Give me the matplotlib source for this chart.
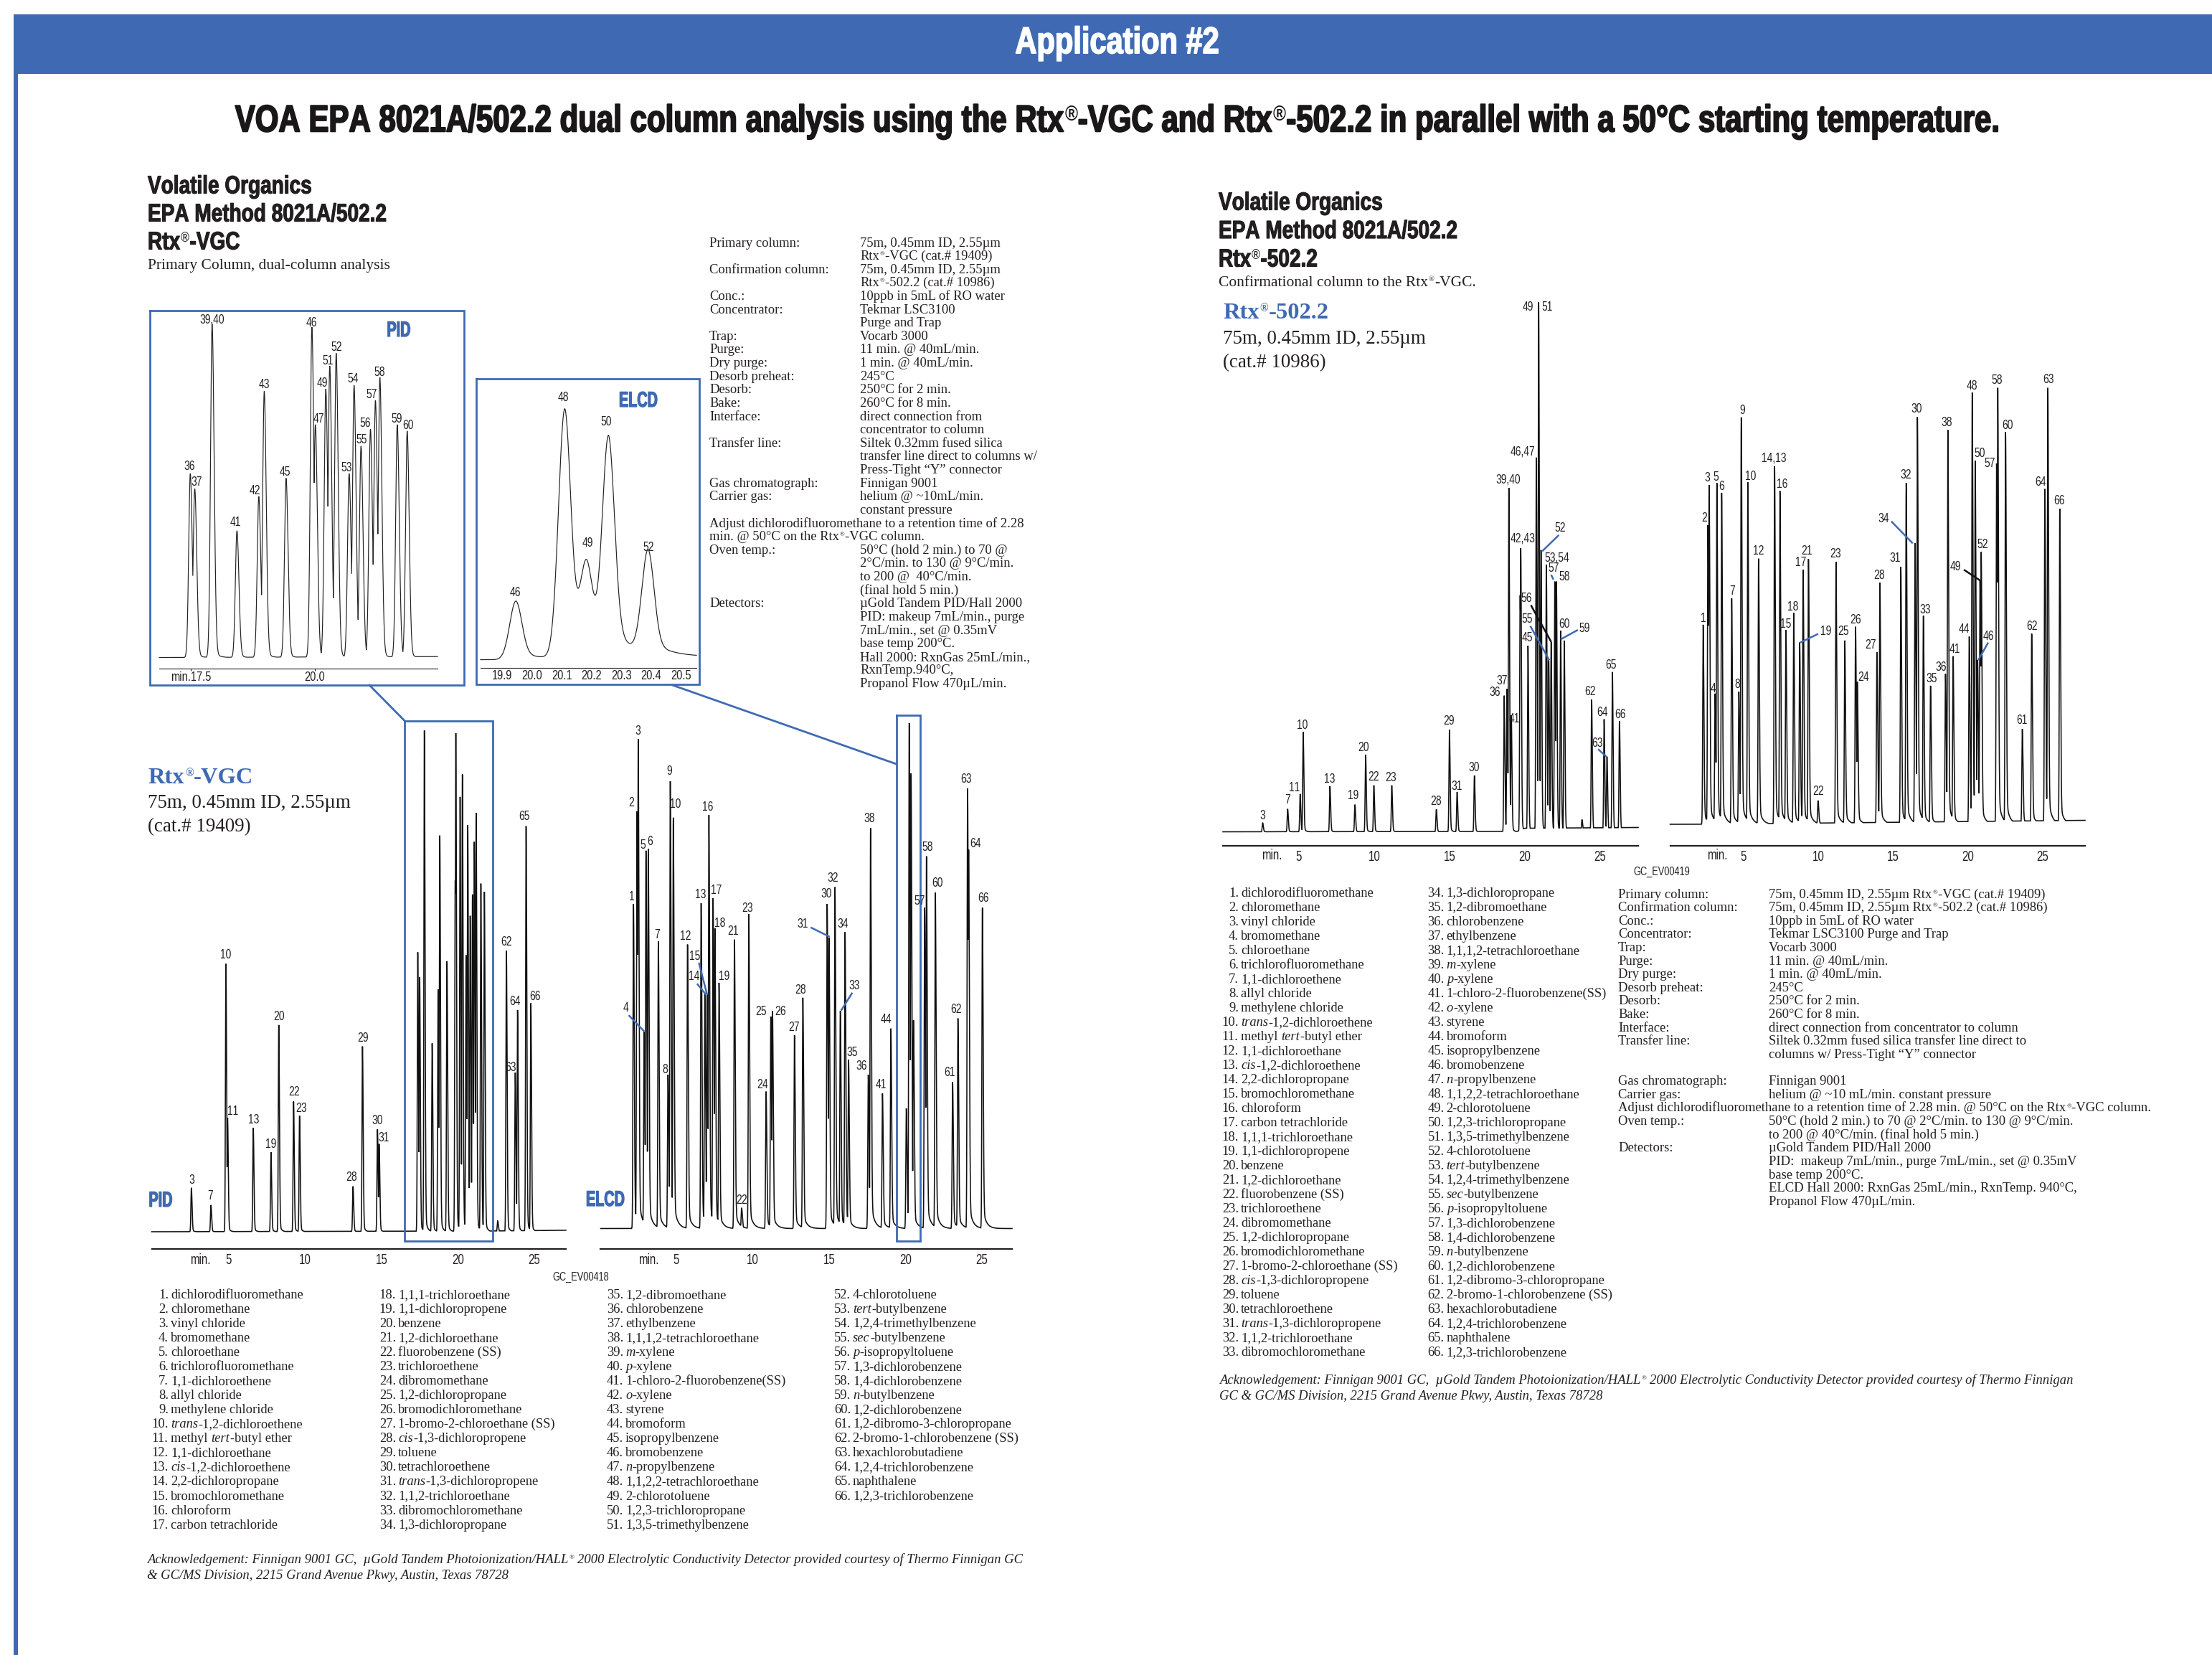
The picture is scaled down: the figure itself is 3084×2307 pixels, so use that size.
import numpy as np
import matplotlib
matplotlib.use("Agg")
import matplotlib.pyplot as plt
import matplotlib.patheffects as pe
from matplotlib import font_manager as fm

# ---------------- DATA (retention time in min, response in arbitrary units) ----------------
A_T = [2.55,3.83,4.81,4.92,6.6,7.76,8.27,9.24,9.63,13.13,13.75,14.73,14.84,17.37,17.49,17.8,18.31,18.7,18.81,19.28,19.82,19.86,20.14,20.29,20.53,20.64,20.8,20.95,21.07,21.19,21.5,21.73,22.6,23.17,23.75,23.9,24.46,24.77]
A_H = [117,71,714,304,277,212,551,347,309,121,494,273,234,745,679,1336,502,646,1056,721,936,1329,1159,1219,737,1084,842,899,1039,1116,928,906,29,749,424,591,1081,609]
A_BT = [0,22,27.1]
A_BR = [0,2,4]

B_T = [2.2,2.43,2.51,2.9,3.02,3.17,3.83,4.46,4.61,4.81,5.74,6.63,6.87,7.02,7.14,7.41,7.53,7.8,8.81,9.28,9.75,10.88,11.19,11.3,12.74,13.29,14.88,15.0,15.39,15.74,16.05,16.28,17.57,17.72,18.5,19.05,20.06,20.25,20.37,20.53,21.26,21.38,21.96,23.09,23.44,24.07,24.14,25.04]
B_H = [865,1112,1305,525,1007,1012,765,410,1192,1095,757,867,625,625,1102,880,800,655,770,55,838,365,565,580,515,615,865,775,910,580,790,450,410,1067,360,533,320,1347,1213,555,855,992,895,390,560,1173,1010,855]
B_BT = [0,2.1,27.1]
B_BR = [-5,-5,-3]

C_T = [17.49,17.58,17.93,18.43,18.87,18.98,19.42,19.94,20.01,20.22,20.3,20.43,20.69,20.79,20.93,21.12,21.22,21.31,21.66,21.86]
C_H = [402,369,729,277,352,582,392,722,509,587,637,665,402,595,462,499,562,612,509,495]
C_TICKS = [17.5,20.0]

D_T = [19.946,20.11,20.183,20.257,20.39]
D_H = [128,545,190,470,225]
D_TICKS = [19.9,20.0,20.1,20.2,20.3,20.4,20.5]

E_T = [2.59,4.25,5.08,5.28,7.06,8.72,9.43,9.98,11.17,14.13,15.0,15.51,16.66,18.64,18.83,18.95,19.11,19.7,19.74,20.22,20.77,20.93,21.09,21.44,21.6,21.76,22.0,22.11,22.39,22.63,23.81,24.45,25.28,25.47,25.83,26.3]
E_H = [23,58,96,254,116,69,196,118,118,57,259,101,143,346,363,874,296,601,721,473,951,1346,716,679,436,483,636,636,511,486,31,336,286,191,406,281]
E_BT = [0,19.5,20.0,27.6]
E_BR = [0,1,9,11]

F_T = [2.29,2.61,2.69,3.09,3.21,3.53,4.2,4.68,4.84,5.28,6.0,7.07,7.43,7.83,8.35,8.75,8.98,9.34,9.98,11.18,11.77,12.49,12.61,13.92,14.12,15.52,15.88,16.47,16.63,17.03,17.51,18.51,18.67,19.02,20.1,20.3,20.5,20.66,20.82,20.9,21.93,22.01,22.53,23.65,24.28,25.16,25.36,26.16]
F_H = [507,760,862,332,867,842,574,337,1034,869,675,910,847,494,537,462,647,674,60,667,467,502,362,437,614,654,867,714,1035,530,352,382,1002,427,477,1097,924,417,620,692,917,1109,997,242,484,852,1109,802]
F_BT = [0,2.2,27.6]
F_BR = [0,0,10]

MAIN_TICKS = [5,10,15,20,25]

COMPOUNDS = ["dichlorodifluoromethane","chloromethane","vinyl chloride","bromomethane","chloroethane",
"trichlorofluoromethane","1,1-dichloroethene","allyl chloride","methylene chloride","*trans*-1,2-dichloroethene",
"methyl *tert*-butyl ether","1,1-dichloroethane","*cis*-1,2-dichloroethene","2,2-dichloropropane","bromochloromethane",
"chloroform","carbon tetrachloride","1,1,1-trichloroethane","1,1-dichloropropene","benzene","1,2-dichloroethane",
"fluorobenzene (SS)","trichloroethene","dibromomethane","1,2-dichloropropane","bromodichloromethane",
"1-bromo-2-chloroethane (SS)","*cis*-1,3-dichloropropene","toluene","tetrachloroethene","*trans*-1,3-dichloropropene",
"1,1,2-trichloroethane","dibromochloromethane","1,3-dichloropropane","1,2-dibromoethane","chlorobenzene","ethylbenzene",
"1,1,1,2-tetrachloroethane","*m*-xylene","*p*-xylene","1-chloro-2-fluorobenzene(SS)","*o*-xylene","styrene","bromoform",
"isopropylbenzene","bromobenzene","*n*-propylbenzene","1,1,2,2-tetrachloroethane","2-chlorotoluene","1,2,3-trichloropropane",
"1,3,5-trimethylbenzene","4-chlorotoluene","*tert*-butylbenzene","1,2,4-trimethylbenzene","*sec*-butylbenzene",
"*p*-isopropyltoluene","1,3-dichlorobenzene","1,4-dichlorobenzene","*n*-butylbenzene","1,2-dichlorobenzene",
"1,2-dibromo-3-chloropropane","2-bromo-1-chlorobenzene (SS)","hexachlorobutadiene","1,2,4-trichlorobenzene","naphthalene",
"1,2,3-trichlorobenzene"]

PARAMS_LEFT = [("Primary column:","75m, 0.45mm ID, 2.55µm"),("","Rtx®-VGC (cat.# 19409)"),
("Confirmation column:","75m, 0.45mm ID, 2.55µm"),("","Rtx®-502.2 (cat.# 10986)"),("Conc.:","10ppb in 5mL of RO water"),
("Concentrator:","Tekmar LSC3100"),("","Purge and Trap"),("Trap:","Vocarb 3000"),("Purge:","11 min. @ 40mL/min."),
("Dry purge:","1 min. @ 40mL/min."),("Desorb preheat:","245°C"),("Desorb:","250°C for 2 min."),("Bake:","260°C for 8 min."),
("Interface:","direct connection from"),("","concentrator to column"),("Transfer line:","Siltek 0.32mm fused silica"),
("","transfer line direct to columns w/"),("","Press-Tight “Y” connector"),("Gas chromatograph:","Finnigan 9001"),
("Carrier gas:","helium @ ~10mL/min."),("","constant pressure"),
("Adjust dichlorodifluoromethane to a retention time of 2.28",""),("min. @ 50°C on the Rtx®-VGC column.",""),
("Oven temp.:","50°C (hold 2 min.) to 70 @"),("","2°C/min. to 130 @ 9°C/min."),("","to 200 @  40°C/min."),("","(final hold 5 min.)"),
("Detectors:","µGold Tandem PID/Hall 2000"),("","PID: makeup 7mL/min., purge"),("","7mL/min., set @ 0.35mV"),("","base temp 200°C."),
("","Hall 2000: RxnGas 25mL/min.,"),("","RxnTemp.940°C,"),("","Propanol Flow 470µL/min.")]

PARAMS_RIGHT = [("Primary column:","75m, 0.45mm ID, 2.55µm Rtx®-VGC (cat.# 19409)"),
("Confirmation column:","75m, 0.45mm ID, 2.55µm Rtx®-502.2 (cat.# 10986)"),("Conc.:","10ppb in 5mL of RO water"),
("Concentrator:","Tekmar LSC3100 Purge and Trap"),("Trap:","Vocarb 3000"),("Purge:","11 min. @ 40mL/min."),
("Dry purge:","1 min. @ 40mL/min."),("Desorb preheat:","245°C"),("Desorb:","250°C for 2 min."),("Bake:","260°C for 8 min."),
("Interface:","direct connection from concentrator to column"),("Transfer line:","Siltek 0.32mm fused silica transfer line direct to"),
("","columns w/ Press-Tight “Y” connector"),("",""),("Gas chromatograph:","Finnigan 9001"),
("Carrier gas:","helium @ ~10 mL/min. constant pressure"),
("Adjust dichlorodifluoromethane to a retention time of 2.28 min. @ 50°C on the Rtx®-VGC column.",""),
("Oven temp.:","50°C (hold 2 min.) to 70 @ 2°C/min. to 130 @ 9°C/min."),("","to 200 @ 40°C/min. (final hold 5 min.)"),
("Detectors:","µGold Tandem PID/Hall 2000"),("","PID:  makeup 7mL/min., purge 7mL/min., set @ 0.35mV"),("","base temp 200°C."),
("","ELCD Hall 2000: RxnGas 25mL/min., RxnTemp. 940°C,"),("","Propanol Flow 470µL/min.")]

TITLE = "VOA EPA 8021A/502.2 dual column analysis using the Rtx®-VGC and Rtx®-502.2 in parallel with a 50°C starting temperature."
ACK_L = ["Acknowledgement: Finnigan 9001 GC,  µGold Tandem Photoionization/HALL® 2000 Electrolytic Conductivity Detector provided courtesy of Thermo Finnigan GC",
         "& GC/MS Division, 2215 Grand Avenue Pkwy, Austin, Texas 78728"]
ACK_R = ["Acknowledgement: Finnigan 9001 GC,  µGold Tandem Photoionization/HALL® 2000 Electrolytic Conductivity Detector provided courtesy of Thermo Finnigan",
         "GC & GC/MS Division, 2215 Grand Avenue Pkwy, Austin, Texas 78728"]

# ---------------- annotation layout (label text, reference-view x, y) ----------------
A_LAB = [("3",105,1272),("7",137,1314),("10",162,672),("11",175,1089),("13",209,1112),("19",238,1177),("20",252,836),("22",278,1037),("23",289,1081),("28",374,1265),("29",393,894),("30",418,1113),("31",428,1160),("62",634,637),("65",665,303),("64",649,796),("66",682,783),("63",642,972)]
B_LAB = [("3",856,75),("2",845,266),("1",845,517),("5",864,380),("6",876,370),("4",835,813),("7",888,618),("8",901,978),("9",908,182),("10",919,270),("12",936,622),("13",961,512),("15",951,676),("14",950,730),("16",973,278),("17",987,500),("18",993,588),("19",1000,730),("21",1016,609),("22",1030,1326),("23",1040,547),("24",1065,1018),("25",1062,823),("26",1095,823),("27",1118,865),("28",1129,765),("30",1172,510),("31",1132,589),("32",1183,467),("33",1220,754),("34",1200,589),("35",1216,932),("36",1231,968),("38",1245,309),("41",1264,1018),("44",1273,844),("57",1329,529),("58",1342,385),("60",1359,480),("61",1379,985),("62",1391,817),("63",1408,203),("64",1423,375),("66",1436,521)]
B_LEAD = [(840,832,866,875),(1146,598,1178,623),(1216,772,1197,820),(955,748,970,777),(958,692,972,778)]
C_LAB = [("36",276,1020),("37",287,1054),("39,40",309,700),("41",343,1143),("42",372,1073),("43",385,842),("45",415,1032),("46",454,706),("47",464,917),("49",470,838),("51",478,789),("52",491,760),("53",505,1023),("54",515,828),("55",527,962),("56",532,926),("57",542,863),("58",553,815),("59",578,917),("60",595,930)]
D_LAB = [("48",821,870),("50",883,923),("49",856,1187),("46",751,1296),("52",945,1197)]
E_LAB = [("3",97,1381),("7",139,1341),("10",164,1151),("11",150,1310),("13",209,1288),("19",249,1330),("20",267,1208),("22",284,1283),("23",312,1285),("28",389,1344),("29",410,1141),("30",452,1259),("31",424,1306),("36",487,1067),("37",499,1038),("39,40",510,526),("41",520,1135),("42,43",534,677),("45",542,928),("46,47",534,455),("49",543,88),("51",576,88),("52",597,650),("53,54",592,725),("57",586,752),("58",604,774),("56",541,828),("55",542,882),("60",604,894),("59",638,905),("62",648,1066),("64",668,1118),("63",660,1197),("65",683,998),("66",698,1124)]
E_LEAD = [(595,667,567,708,'b'),(582,768,586,780,'b'),(548,845,582,938,'k'),(547,898,579,985,'b'),(627,908,598,932,'b'),(661,1211,675,1230,'b')]
F_LAB = [("1",838,879),("2",840,625),("3",845,523),("5",859,520),("6",869,544),("4",855,1058),("7",886,810),("8",895,1047),("9",903,351),("10",917,519),("12",931,708),("14,13",957,473),("16",970,539),("15",977,894),("18",989,851),("17",1002,738),("21",1012,708),("19",1044,912),("22",1031,1319),("23",1060,716),("25",1074,912),("26",1094,883),("24",1107,1029),("27",1119,947),("28",1134,770),("31",1160,727),("32",1178,515),("34",1141,626),("30",1197,347),("33",1211,858),("35",1222,1033),("36",1237,1004),("38",1247,382),("41",1261,958),("44",1276,907),("48",1290,289),("50",1303,460),("46",1317,925),("49",1262,748),("52",1308,692),("57",1319,486),("58",1332,274),("60",1349,389),("61",1373,1138),("62",1391,900),("64",1405,533),("63",1418,273),("66",1436,581)]
F_LEAD = [(1031,918,1001,940,'b'),(1154,632,1190,688,'b'),(1276,755,1303,782,'k'),(1317,940,1300,985,'b')]

# ---------------- condensed fonts, derived locally from Liberation Sans ----------------
def narrow_font(weight, sx, family):
    try:
        from fontTools.ttLib import TTFont
        from fontTools.ttLib.tables._g_l_y_f import GlyphCoordinates
        from fontTools.ttLib.tables.ttProgram import Program
        src = fm.findfont(fm.FontProperties(family="Liberation Sans", weight=weight))
        f = TTFont(src)
        glyf = f["glyf"]
        for gn in glyf.keys():
            g = glyf[gn]
            if g.isComposite():
                for c in g.components:
                    c.x = int(round(c.x*sx))
            elif g.numberOfContours > 0:
                g.coordinates = GlyphCoordinates([(int(round(x*sx)), y) for x, y in g.coordinates])
            if hasattr(g, "program"):
                p = Program(); p.fromBytecode(b""); g.program = p
        hm = f["hmtx"].metrics
        for gn in list(hm):
            a, l = hm[gn]
            hm[gn] = (int(round(a*sx)), int(round(l*sx)))
        for tag in ("fpgm", "prep", "cvt ", "hdmx", "VDMX", "LTSH", "kern", "GPOS", "GSUB", "GDEF", "DSIG", "gasp"):
            if tag in f:
                del f[tag]
        for rec in f["name"].names:
            if rec.nameID in (1, 16):
                rec.string = family
            elif rec.nameID == 4:
                rec.string = family
            elif rec.nameID == 6:
                rec.string = family.replace(" ", "")
        out = family.replace(" ", "") + ".ttf"
        f.save(out)
        fm.fontManager.addfont(out)
        return family
    except Exception:
        return "Liberation Sans"

NARROW = narrow_font("normal", 0.75, "Resk Narrow")
HEAVY = narrow_font("bold", 0.80, "Resk Heavy")
TIGHT = narrow_font("bold", 0.66, "Resk Tight")
SERIF = "Liberation Serif"

# ---------------- helpers ----------------
BLUE = "#3f6ab3"
INK = "#231f20"
W, H = 3084, 2307

fig = plt.figure(figsize=(W/100, H/100), dpi=100, facecolor="white")
cv = fig.add_axes([0, 0, 1, 1], zorder=10)
cv.set_xlim(0, W); cv.set_ylim(H, 0); cv.axis("off"); cv.patch.set_alpha(0)
rend = fig.canvas.get_renderer()

def _put(x, y, s, px, fam, w, st, c, stroke):
    extra = 0.0
    if s.startswith(" "):
        extra = 0.25*px
        s = s.lstrip(" ")
    t = cv.text(x+extra, y, s, fontsize=px*0.72, family=fam, weight=w, style=st, color=c, ha="left", va="baseline")
    if stroke:
        t.set_path_effects([pe.withStroke(linewidth=stroke, foreground=c)])
    return t, t.get_window_extent(rend).width + extra

def T(x, y, s, px, fam=SERIF, w="normal", st="normal", c=INK, ha="left", stroke=0):
    yb = y + 0.33*px
    rs = 0.58 if fam != SERIF else 0.48
    if ha != "left":
        pen = 0.0
        for i, part in enumerate(s.split("®")):
            if i:
                t, wd = _put(0, yb, "®", px*rs, fam, w, st, c, 0); t.remove(); pen += wd + 1
            if part:
                t, wd = _put(0, yb, part, px, fam, w, st, c, 0); t.remove(); pen += wd + 0.5
        x = x - pen/2 if ha == "center" else x - pen
    pen = x
    for i, part in enumerate(s.split("®")):
        if i:
            t, wd = _put(pen+0.5, yb-0.30*px, "®", px*rs, fam, w, st, c, 0); pen += wd + 1
        if part:
            t, wd = _put(pen, yb, part, px, fam, w, st, c, stroke); pen += wd + 0.5
    return pen - x

def rich(x, y, s, px):
    for i, p in enumerate(s.split("*")):
        if p:
            x += T(x, y, p, px, st="italic" if i % 2 else "normal")

def lab(s, x, y, px=18.5, c=INK, fam=None, stroke=0, **k):
    t = cv.text(x, y, s, fontsize=px*0.72, family=fam or NARROW, color=c, ha="center", va="center", **k)
    if stroke:
        t.set_path_effects([pe.withStroke(linewidth=stroke, foreground=c)])

def trace(ax, tm, h, bt, br, sl, sr, tail, tau, lw=1.0, sumup=False, col="#111111"):
    tm = np.asarray(tm); h = np.asarray(h, float)
    lo, hi = ax.get_xlim()
    g = np.union1d(np.linspace(lo, hi, 9000), tm)
    base = np.interp(g, bt, br)
    curves = []
    for t0, a in zip(tm, h):
        d = g - t0
        y = np.where(d < 0, np.exp(-0.5*(d/sl)**2),
                     (1-tail)*np.exp(-0.5*(d/sr)**2) + tail*np.exp(-np.clip(d, 0, None)/tau))
        curves.append(a*y)
    y = np.sum(curves, axis=0) + base if sumup else np.maximum(np.max(curves, axis=0), base)
    ax.plot(g, y, color=col, lw=lw, solid_joinstyle="miter", clip_on=False)

def chart(px0, px1, xref, tref, ppm, ybase, yaxis, ytop, ysc, ticks, fmt="%g", spine=1.6):
    ax = fig.add_axes([px0/W, 1-yaxis/H, (px1-px0)/W, (yaxis-ytop)/H], zorder=2)
    ax.set_xlim((px0-xref)/ppm+tref, (px1-xref)/ppm+tref)
    ax.set_ylim((ybase-yaxis)*ysc, (ybase-ytop)*ysc)
    for s in ("top", "left", "right"):
        ax.spines[s].set_visible(False)
    ax.spines["bottom"].set_linewidth(spine); ax.spines["bottom"].set_color(INK)
    ax.set_yticks([]); ax.set_xticks(ticks)
    ax.set_xticklabels([fmt % v for v in ticks], family=NARROW, fontsize=14.5, color=INK)
    ax.tick_params(axis="x", length=0, pad=4.5)
    ax.patch.set_alpha(0)
    return ax

# ---------------- frame and headings ----------------
cv.fill_between([19, W], 19.5, 102.5, color=BLUE, lw=0)
cv.fill_between([19, 24.5], 102, H, color=BLUE, lw=0)
T(1558, 57, "Application #2", 52, HEAVY, c="white", ha="center", stroke=1.2)
T(1558, 166, TITLE, 52.5, HEAVY, ha="center", c="#1a1718", stroke=1.4)
for i, s in enumerate(["Volatile Organics", "EPA Method 8021A/502.2", "Rtx®-VGC"]):
    T(206, 258+39*i, s, 35, HEAVY, stroke=0.8)
T(206, 368, "Primary Column, dual-column analysis", 21.5)
for i, s in enumerate(["Volatile Organics", "EPA Method 8021A/502.2", "Rtx®-502.2"]):
    T(1699, 281+39.5*i, s, 35, HEAVY, stroke=0.8)
T(1699, 392, "Confirmational column to the Rtx®-VGC.", 21.5)
T(206.5, 1081, "Rtx®-VGC", 32.5, SERIF, "bold", c=BLUE)
T(206.5, 1117.5, "75m, 0.45mm ID, 2.55µm", 27)
T(206.5, 1150, "(cat.# 19409)", 27)
T(1705, 433, "Rtx®-502.2", 32.5, SERIF, "bold", c=BLUE)
T(1705, 470.5, "75m, 0.45mm ID, 2.55µm", 27)
T(1705, 503, "(cat.# 10986)", 27)

# ---------------- parameter tables ----------------
for i, (a, b) in enumerate(PARAMS_LEFT):
    y = 337.4 + 18.62*i
    if a: T(989, y, a, 18.6)
    if b: T(1199, y, b, 18.6)
for i, (a, b) in enumerate(PARAMS_RIGHT):
    y = 1245.4 + 18.62*i
    if a: T(2256, y, a, 18.6)
    if b: T(2466, y, b, 18.6)

# ---------------- compound lists ----------------
def clist(names, first, xname, y0):
    for i, n in enumerate(names):
        y = y0 + 20.03*i
        T(xname-3-len(str(first+i))*9.3-4.6, y, f"{first+i}.", 18.5)
        rich(xname, y, n, 18.5)

for k, (a, b, x) in enumerate([(0, 17, 238), (17, 34, 555), (34, 51, 872), (51, 66, 1189)]):
    clist(COMPOUNDS[a:b], a+1, x, 1804)
clist(COMPOUNDS[:33], 1, 1730, 1243.4)
clist(COMPOUNDS[33:], 34, 2016.6, 1243.4)
for i, s in enumerate(ACK_L):
    T(205, 2173+22*i, s, 18.6, st="italic")
for i, s in enumerate(ACK_R):
    T(1700, 1922.6+21.8*i, s, 18.6, st="italic")

# ---------------- chromatograms ----------------
axA = chart(211.5, 789, 319, 5, 21.3, 1717, 1741, 980, 1.912, MAIN_TICKS)
trace(axA, A_T, A_H, A_BT, A_BR, 0.03, 0.045, 0.05, 0.12, lw=1.15)
axB = chart(837.5, 1411, 942.8, 5, 21.3, 1712.5, 1740.5, 980, 1.912, MAIN_TICKS)
trace(axB, B_T, B_H, B_BT, B_BR, 0.03, 0.05, 0.07, 0.22, lw=1.15)
axE = chart(1705, 2284, 1811, 5, 20.98, 1159.5, 1179, 380, 1.823, MAIN_TICKS)
trace(axE, E_T, E_H, E_BT, E_BR, 0.03, 0.045, 0.05, 0.12, lw=1.15)
axF = chart(2328.5, 2907, 2431, 5, 20.83, 1149, 1179, 380, 1.823, MAIN_TICKS)
trace(axF, F_T, F_H, F_BT, F_BR, 0.03, 0.05, 0.07, 0.22, lw=1.15)

axC = chart(222, 610, 266, 17.5, 69.2, 916.5, 932, 433, 1.568, C_TICKS, "%.1f", spine=0.8)
axC.set_xticklabels(["min.17.5", "20.0"], family=NARROW, fontsize=14)
axC.tick_params(axis="x", length=2, width=0.7, direction="out", pad=1)
trace(axC, C_T, C_H, [17, 22.6], [0, 2], 0.032, 0.04, 0.03, 0.08, lw=0.85, col="#222222")
axD = chart(670, 971, 700.3, 19.9, 415, 919.6, 931, 528, 1.568, D_TICKS, "%.1f", spine=0.8)
axD.tick_params(axis="x", length=0, pad=2)
axD.set_xticklabels(["%.1f" % v for v in D_TICKS], family=NARROW, fontsize=14)
trace(axD, D_T, D_H, [19.8, 19.91, 20.6], [0, 0, 6], 0.021, 0.02, 0.13, 0.07, lw=0.85, sumup=True, col="#222222")

# ---------------- labels ----------------
zA = lambda x, y: (180+x/1.206, 980+y/1.912)
zE = lambda x, y: (1680+x/1.206, 380+y/1.823)
z1 = lambda x, y: (x/1.0453, y/1.568)
def labels(L, z):
    for s, x, y in L:
        lab(s, *z(x, y))
labels(A_LAB, zA); labels(B_LAB, zA); labels(E_LAB, zE); labels(F_LAB, zE)
labels(C_LAB, z1); labels(D_LAB, z1)
def leads(L, z):
    for e in L:
        x0, y0 = z(e[0], e[1]); x1, y1 = z(e[2], e[3])
        col = "#111111" if len(e) > 4 and e[4] == "k" else BLUE
        cv.plot([x0, x1], [y0, y1], color=col, lw=1.8, solid_capstyle="butt")
leads(B_LEAD, zA); leads(E_LEAD, zE); leads(F_LEAD, zE)

for s, (x, y) in [("min.", (279, 1756)), ("min.", (904, 1756)), ("min.", (1773, 1192)), ("min.", (2394, 1192))]:
    lab(s, x, y, 20)
lab("GC_EV00418", 810, 1780, 17)
lab("GC_EV00419", 2317, 1215, 17)
lab("PID", 224, 1674, 30, c=BLUE, fam=TIGHT, stroke=0.9)
lab("ELCD", 844, 1673, 30, c=BLUE, fam=TIGHT, stroke=0.9)
lab("PID", 556, 461, 30, c=BLUE, fam=TIGHT, stroke=0.9)
lab("ELCD", 890, 559, 30, c=BLUE, fam=TIGHT, stroke=0.9)

# inset frames, zoom windows and connectors
def rect(x0, y0, x1, y1, lw=2.0):
    cv.plot([x0, x1, x1, x0, x0], [y0, y0, y1, y1, y0], color=BLUE, lw=lw, solid_joinstyle="miter")
rect(208.5, 433, 647, 955)
rect(664, 528, 975, 953.5)
rect(564, 1004.6, 686.6, 1729.5)
rect(1249.6, 997, 1283, 1729.5)
cv.plot([515, 564], [955, 1004.6], color=BLUE, lw=2.0)
cv.plot([937.5, 1249.6], [955, 1065], color=BLUE, lw=2.0)

fig.savefig("out.png", dpi=100, facecolor="white")
